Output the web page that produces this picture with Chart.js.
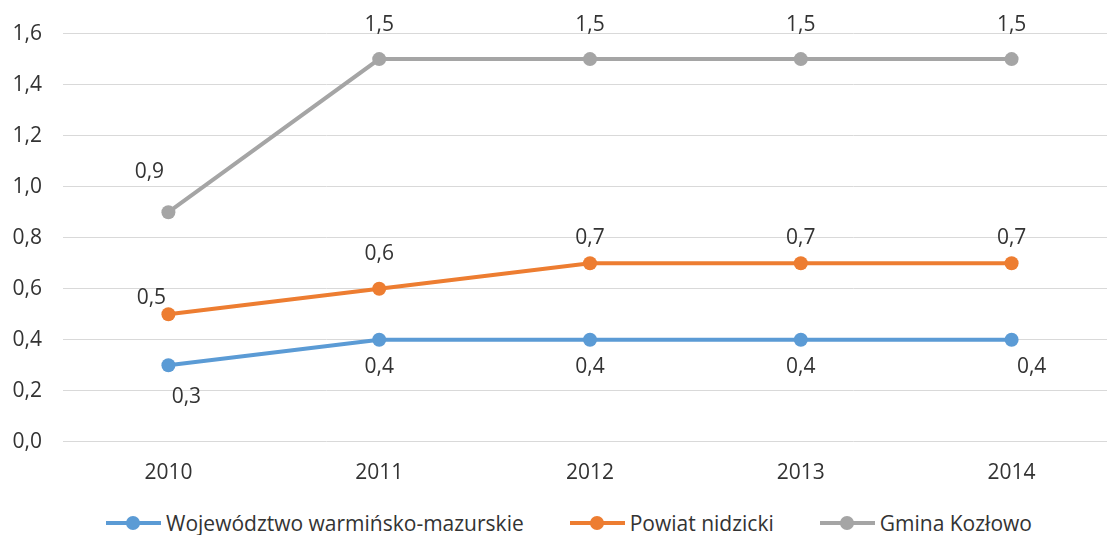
<!DOCTYPE html>
<html>
<head>
<meta charset="utf-8">
<script src="https://cdn.jsdelivr.net/npm/chart.js@4.4.0/dist/chart.umd.min.js"></script>
<style>
  html, body { margin: 0; padding: 0; background: #fff; overflow: hidden; }
  #wrap { width: 1130px; height: 535px; position: relative; }
  #chartBox { position: absolute; left: 0; top: 0; width: 1124px; height: 499px; }
  #legend {
    position: absolute; left: 0; top: 509px; width: 1138px; height: 28px;
    display: flex; justify-content: center; align-items: center; gap: 46px;
    font-family: "Open Sans", "Noto Sans", sans-serif; font-size: 21px; color: #333;
  }
  .item { display: flex; align-items: center; white-space: nowrap; }
  .mark { position: relative; width: 55px; height: 4px; margin-right: 5px; }
  .mark i { position: absolute; left: 20px; top: -5px; width: 14px; height: 14px; border-radius: 50%; }
</style>
</head>
<body>
<div id="wrap">
  <div id="chartBox"><canvas id="lineChart"></canvas></div>
  <div id="legend"></div>
</div>
<script>
// Chart data
const years = ['2010', '2011', '2012', '2013', '2014'];
const wojewodztwo = [0.3, 0.4, 0.4, 0.4, 0.4];
const powiat = [0.5, 0.6, 0.7, 0.7, 0.7];
const gmina = [0.9, 1.5, 1.5, 1.5, 1.5];
const seriesNames = ['Województwo warmińsko-mazurskie', 'Powiat nidzicki', 'Gmina Kozłowo'];
const seriesColors = ['#5B9BD5', '#ED7D31', '#A5A5A5'];

const fontFamily = '"Open Sans", "Noto Sans", sans-serif';
const fontSize = 21;
const textColor = '#333';

function fmt(v) {
    return v.toFixed(1).replace('.', ',');
}

// label offsets (pixels) for each series/point
const labelOffsets = [
    { dx: [18, 0, 0, 0, 20], dy: [32, 27, 27, 27, 27] },
    { dx: [-17, 0, 0, 0, 0], dy: [-16, -35, -25, -25, -25] },
    { dx: [-19, 0, 0, 0, 0], dy: [-40, -34, -34, -34, -34] }
];

const valueLabels = {
    id: 'valueLabels',
    afterDatasetsDraw(chart) {
        const ctx = chart.ctx;
        ctx.save();
        ctx.font = fontSize + 'px ' + fontFamily;
        ctx.fillStyle = textColor;
        ctx.textAlign = 'center';
        ctx.textBaseline = 'middle';
        chart.data.datasets.forEach((ds, i) => {
            const meta = chart.getDatasetMeta(i);
            const off = labelOffsets[i];
            meta.data.forEach((pt, j) => {
                ctx.fillText(fmt(ds.data[j]), pt.x + off.dx[j], pt.y + off.dy[j]);
            });
        });
        ctx.restore();
    }
};

function makeSet(label, data, color) {
    return {
        label: label,
        data: data,
        borderColor: color,
        backgroundColor: color,
        borderWidth: 4,
        pointRadius: 7,
        pointHoverRadius: 7,
        pointBorderWidth: 0,
        tension: 0
    };
}

const chart = new Chart(document.getElementById('lineChart'), {
    type: 'line',
    data: {
        labels: years,
        datasets: seriesNames.map((n, i) => makeSet(n, [wojewodztwo, powiat, gmina][i], seriesColors[i]))
    },
    options: {
        responsive: true,
        maintainAspectRatio: false,
        animation: false,
        layout: {
            padding: { top: 28, left: 12, right: 0, bottom: 2 }
        },
        plugins: {
            legend: { display: false },
            tooltip: { enabled: false }
        },
        scales: {
            x: {
                offset: true,
                grid: { display: false },
                border: { display: false },
                ticks: {
                    color: textColor,
                    font: { size: fontSize, family: fontFamily },
                    padding: 11
                }
            },
            y: {
                min: 0,
                max: 1.6,
                grid: { color: '#d9d9d9', drawTicks: false },
                border: { display: false },
                afterFit: function(scale) {
                    scale.width = 51;
                },
                ticks: {
                    stepSize: 0.2,
                    color: textColor,
                    padding: 21,
                    font: { size: fontSize, family: fontFamily },
                    callback: function(value) {
                        return fmt(value);
                    }
                }
            }
        }
    },
    plugins: [valueLabels]
});

// Build the legend below the chart
const legendEl = document.getElementById('legend');
legendEl.innerHTML = seriesNames.map((name, i) => `
    <span class="item">
        <span class="mark" style="background:${seriesColors[i]}"><i style="background:${seriesColors[i]}"></i></span>
        <span>${name}</span>
    </span>
`).join('');
</script>
</body>
</html>
